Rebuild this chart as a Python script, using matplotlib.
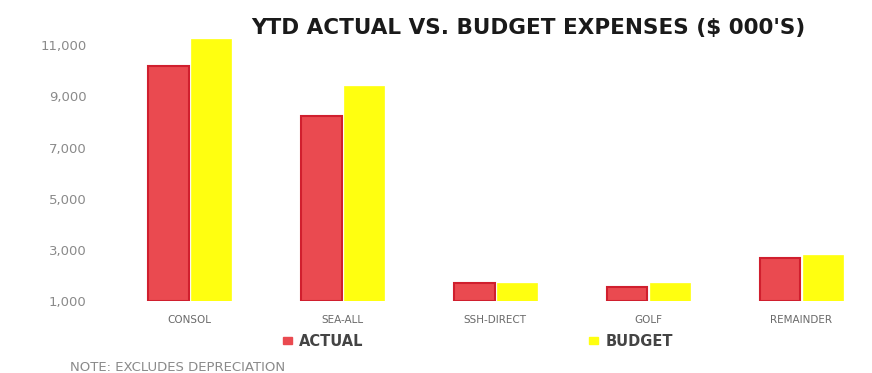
import matplotlib
matplotlib.use("Agg")
import numpy as np
import matplotlib.pyplot as plt
from matplotlib.patches import Patch
from matplotlib.ticker import FuncFormatter

# YTD expenses in $ thousands
categories = ["CONSOL", "SEA-ALL", "SSH-DIRECT", "GOLF", "REMAINDER"]
actual = [10200, 8250, 1700, 1550, 2700]
budget = [11250, 9400, 1700, 1700, 2800]
y_ticks = [1000, 3000, 5000, 7000, 9000, 11000]

base = 1000  # axis starts at 1,000
red = "#ea4a50"
red_edge = "#d01f2e"
yellow = "#ffff10"

fig = plt.figure(figsize=(8.72, 3.73), dpi=100)
ax = fig.add_axes([0.147, 0.193, 0.842, 0.713])

x = np.arange(len(categories))
w = 0.265
ax.bar(x - w / 2 - 0.005, np.array(actual) - base, w, bottom=base,
       color=red, edgecolor=red_edge, linewidth=1.5)
ax.bar(x + w / 2 + 0.01, np.array(budget) - base, w, bottom=base,
       color=yellow, edgecolor=yellow, linewidth=0.5)

ax.set_xlim(-0.4, 4.4)
ax.set_ylim(base, 11400)
ax.set_yticks(y_ticks)
ax.yaxis.set_major_formatter(FuncFormatter(lambda v, p: f"{int(v):,}"))
ax.set_xticks(x)
ax.set_xticklabels(categories)
ax.tick_params(axis="y", length=0, pad=30, labelsize=9.5, labelcolor="#8a8a8a")
ax.tick_params(axis="x", length=0, pad=10, labelsize=7.5, labelcolor="#6a6a6a")
for s in ax.spines.values():
    s.set_visible(False)

fig.text(0.606, 0.925, "YTD ACTUAL VS. BUDGET EXPENSES ($ 000'S)",
         ha="center", va="center", fontsize=15.5, fontweight="semibold", color="#1a1a1a")

handles = [Patch(facecolor=red, edgecolor=red), Patch(facecolor=yellow, edgecolor=yellow)]
fig.legend(handles, ["ACTUAL", "BUDGET"], loc="center", bbox_to_anchor=(0.548, 0.085),
           ncol=2, frameon=False, handlelength=0.6, handleheight=0.35,
           handletextpad=0.5, columnspacing=15.5, labelcolor="#444444",
           prop={"weight": "semibold", "size": 10.5})

fig.text(0.08, 0.016, "NOTE: EXCLUDES DEPRECIATION", ha="left", va="center",
         fontsize=9.5, color="#8a8a8a")

fig.savefig("out.png", dpi=100)
